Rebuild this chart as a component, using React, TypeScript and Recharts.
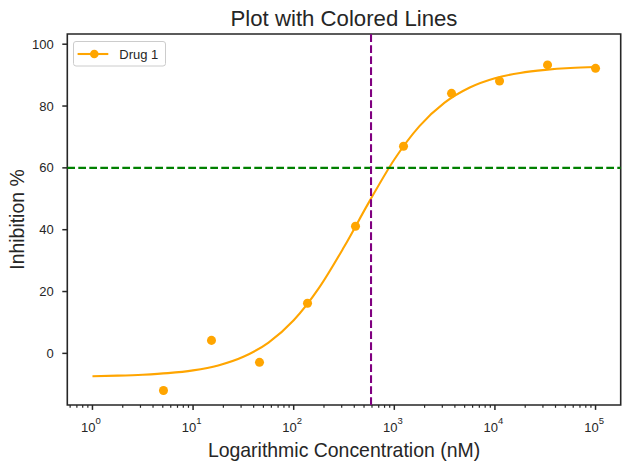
import React from "react";
import {
  ComposedChart,
  Line,
  Scatter,
  XAxis,
  YAxis,
  ReferenceLine,
  ReferenceArea,
  Legend,
  Label,
} from "recharts";

// measured doses (nM) and % inhibition
const doses = [5.08, 15.24, 45.72, 137.2, 411.5, 1234.6, 3703.7, 11111, 33333, 100000];
const inhibition = [-12, 4.2, -2.9, 16.2, 41.1, 67, 84.1, 88.1, 93.3, 92.2];

// fitted dose-response curve
const fitConc = [
  1, 1.778, 3.162, 5.623, 10, 17.78, 31.62, 56.23, 100, 177.8, 316.2, 562.3,
  1000, 1778, 3162, 5623, 10000, 17783, 31623, 56234, 100000,
];
const fitInhibition = [
  -7.4, -7.2, -6.9, -6.4, -5.5, -3.9, -1.1, 3.5, 10.7, 21.1, 34.4, 49.0,
  62.7, 73.5, 81.1, 86.0, 89.0, 90.7, 91.7, 92.3, 92.6,
];

const threshold = 60;
const ic50 = 587;

const yTicks = [0, 20, 40, 60, 80, 100];
const majorTicks = [1, 10, 100, 1000, 10000, 100000];

const xDomain: [number, number] = [0.5623, 177828];
const yDomain: [number, number] = [-16.7, 103.3];

const minorTicks = [0.1, 1, 10, 100, 1000, 10000, 100000]
  .flatMap((d) => [2, 3, 4, 5, 6, 7, 8, 9].map((m) => m * d))
  .filter((v) => v > xDomain[0] && v < xDomain[1]);
const xTicks = [...majorTicks, ...minorTicks].sort((a, b) => a - b);

const points = doses.map((conc, i) => ({ conc, inh: inhibition[i] }));
const curve = fitConc.map((conc, i) => ({ conc, inh: fitInhibition[i] }));

const ink = "#262626";
const orange = "#FFA500";
const font = "'Liberation Sans', Arial, sans-serif";
const lw = 2.08;
const dash = "7.7 3.3";

const LogTick = (props: any) => {
  const { x, y, payload } = props;
  const lg = Math.log10(payload.value);
  const exp = Math.round(lg);
  if (Math.abs(lg - exp) > 1e-6) {
    return <line x1={x} x2={x} y1={y} y2={y + 2.8} stroke={ink} strokeWidth={1.2} />;
  }
  return (
    <g>
      <line x1={x} x2={x} y1={y} y2={y + 4.9} stroke={ink} strokeWidth={1.5} />
      <text x={x - 1.5} y={y + 27} textAnchor="middle" fill={ink} fontSize={13} fontFamily={font}>
        10
        <tspan dy={-7.6} fontSize={9.5}>
          {exp}
        </tspan>
      </text>
    </g>
  );
};

const LegendBox = () => (
  <svg width={94} height={27} style={{ display: "block" }}>
    <rect x={0.5} y={0.5} width={92} height={24.5} rx={2.5} fill="rgba(255,255,255,0.8)" stroke="#cccccc" />
    <line x1={4.6} x2={35.3} y1={13} y2={13} stroke={orange} strokeWidth={lw} />
    <circle cx={21.3} cy={13} r={4.3} fill={orange} />
    <text x={46.3} y={17.5} fill={ink} fontSize={13} fontFamily={font}>
      Drug 1
    </text>
  </svg>
);

export default function App() {
  return (
    <div style={{ position: "absolute", left: 0, top: 0, background: "#fff" }}>
      <ComposedChart width={630} height={470} margin={{ top: 34, right: 9.3, bottom: 0, left: 0 }}>
        <XAxis
          dataKey="conc"
          type="number"
          scale="log"
          domain={xDomain}
          allowDataOverflow
          ticks={xTicks}
          interval={0}
          tick={<LogTick />}
          tickLine={false}
          tickSize={0}
          tickMargin={0}
          height={65}
          axisLine={false}
        >
          <Label
            content={(p: any) => {
              const vb = p.viewBox;
              return (
                <text x={vb.x + vb.width / 2} y={vb.y + 51.7} textAnchor="middle" fill={ink} fontSize={19.44} fontFamily={font}>
                  Logarithmic Concentration (nM)
                </text>
              );
            }}
          />
        </XAxis>
        <YAxis
          dataKey="inh"
          type="number"
          domain={yDomain}
          allowDataOverflow
          ticks={yTicks}
          interval={0}
          width={67.3}
          tickSize={5}
          tickMargin={8.5}
          tick={{ fill: ink, fontSize: 13, fontFamily: font }}
          tickLine={{ stroke: ink, strokeWidth: 1.5 }}
          axisLine={false}
        >
          <Label
            content={(p: any) => {
              const vb = p.viewBox;
              const cx = vb.x + 24;
              const cy = vb.y + vb.height / 2;
              return (
                <text
                  x={cx}
                  y={cy}
                  transform={`rotate(-90, ${cx}, ${cy})`}
                  textAnchor="middle"
                  fill={ink}
                  fontSize={19.44}
                  fontFamily={font}
                >
                  Inhibition %
                </text>
              );
            }}
          />
        </YAxis>
        <Scatter data={points} dataKey="inh" fill={orange} isAnimationActive={false} />
        <Line
          data={curve}
          dataKey="inh"
          type="monotone"
          stroke={orange}
          strokeWidth={lw}
          dot={false}
          activeDot={false}
          isAnimationActive={false}
        />
        <ReferenceLine y={threshold} stroke="#008000" strokeWidth={lw} strokeDasharray={dash} />
        <ReferenceLine x={ic50} stroke="#800080" strokeWidth={lw} strokeDasharray={dash} />
        {/* axes frame, with the title above it */}
        <ReferenceArea
          x1={xDomain[0]}
          x2={xDomain[1]}
          y1={yDomain[0]}
          y2={yDomain[1]}
          ifOverflow="visible"
          fill="none"
          stroke={ink}
          strokeWidth={1.6}
          fillOpacity={0}
          strokeOpacity={1}
        >
          <Label
            content={(p: any) => {
              const vb = p.viewBox;
              return (
                <text x={vb.x + vb.width / 2} y={vb.y - 8} textAnchor="middle" fill={ink} fontSize={22.2} fontFamily={font}>
                  Plot with Colored Lines
                </text>
              );
            }}
          />
        </ReferenceArea>
        <Legend
          layout="horizontal"
          align="center"
          verticalAlign="middle"
          wrapperStyle={{ left: 72.7, top: 41, width: "auto", height: "auto" }}
          content={() => <LegendBox />}
        />
      </ComposedChart>
    </div>
  );
}
